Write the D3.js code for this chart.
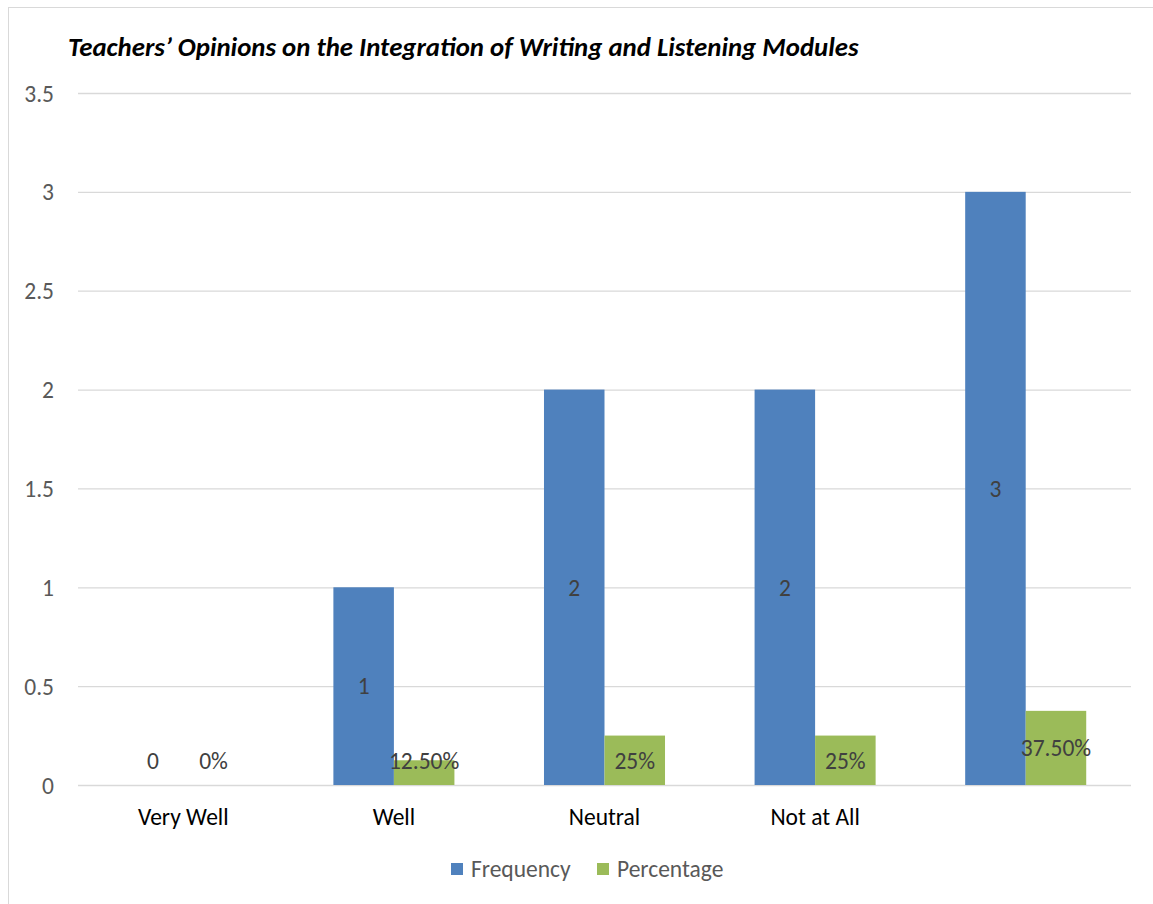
<!DOCTYPE html>
<html><head><meta charset="utf-8">
<script src="https://cdn.jsdelivr.net/npm/d3@7"></script>
<style>
html,body{margin:0;padding:0;background:#fff;}
svg{display:block;}
text{font-family:Carlito, Lato, "Liberation Sans", sans-serif;}
</style></head>
<body>
<svg id="chart" width="1153" height="904"></svg>
<script>
const categories = ["Very Well", "Well", "Neutral", "Not at All", ""];
const seriesNames = ["Frequency", "Percentage"];
const frequency = [0, 1, 2, 2, 3];
const percentage = [0, 0.125, 0.25, 0.25, 0.375];
const frequencyLabels = ["0", "1", "2", "2", "3"];
const percentageLabels = ["0%", "12.50%", "25%", "25%", "37.50%"];
const yTicks = [0, 0.5, 1, 1.5, 2, 2.5, 3, 3.5];
const colors = ["#4F81BD", "#9BBB59"];
const title = "Teachers’ Opinions on the Integration of Writing and Listening Modules";

const FS = "23.5px";
const svg = d3.select("#chart");
// outer border
svg.append("rect").attr("x", 8.5).attr("y", 7.5).attr("width", 1160).attr("height", 910)
  .attr("fill", "none").attr("stroke", "#d9d9d9").attr("stroke-width", 1);

const x0 = d3.scaleBand().domain(categories).range([78, 1131]).paddingInner(0).paddingOuter(0);
const x1 = d3.scaleBand().domain(seriesNames).range([0, x0.bandwidth()]).paddingInner(0).paddingOuter(0.74);
const y = d3.scaleLinear().domain([0, 3.5]).range([785, 93]);

// gridlines
const yAxis = d3.axisLeft(y).tickValues(yTicks).tickSize(-(1131 - 78)).tickPadding(24).tickFormat(d3.format("~g"));
const gy = svg.append("g").attr("transform", "translate(78,0)").call(yAxis);
gy.select(".domain").remove();
gy.selectAll(".tick line").attr("stroke", "#d9d9d9").attr("stroke-width", 1.3);
gy.selectAll(".tick text").attr("fill", "#595959").style("font-size", FS).attr("dy", "0.34em")
  .style("font-family", "Carlito, Lato, 'Liberation Sans', sans-serif");

// x axis labels
const xAxis = d3.axisBottom(x0).tickSize(0).tickPadding(23);
const gx = svg.append("g").attr("transform", "translate(0,785)").call(xAxis);
gx.select(".domain").remove();
gx.selectAll(".tick text").attr("fill", "#000").style("font-size", FS)
  .style("font-family", "Carlito, Lato, 'Liberation Sans', sans-serif");

const data = categories.map((c, i) => ({cat: c, vals: [
  {s: seriesNames[0], v: frequency[i], lab: frequencyLabels[i]},
  {s: seriesNames[1], v: percentage[i], lab: percentageLabels[i]}
]}));

const groups = svg.append("g").selectAll("g").data(data).join("g")
  .attr("transform", d => `translate(${x0(d.cat)},0)`);

groups.selectAll("rect").data(d => d.vals).join("rect")
  .attr("x", d => x1(d.s)).attr("width", x1.bandwidth())
  .attr("y", d => y(d.v)).attr("height", d => y(0) - y(d.v))
  .attr("fill", (d, i) => colors[i]);

groups.selectAll("text.lab").data(d => d.vals).join("text").attr("class", "lab")
  .attr("x", d => x1(d.s) + x1.bandwidth() / 2)
  .attr("y", d => Math.min((y(d.v) + y(0)) / 2, y(0) - 24))
  .attr("dy", "0.35em").attr("text-anchor", "middle")
  .attr("fill", "#404040").style("font-size", FS)
  .text(d => d.lab);

// title
svg.append("text").attr("x", 68).attr("y", 56)
  .style("font-size", "26.8px").style("font-weight", "bold").style("font-style", "italic")
  .attr("fill", "#000").text(title);

// legend
const legend = svg.append("g");
const legItems = [{x: 451, name: seriesNames[0], c: colors[0]}, {x: 597, name: seriesNames[1], c: colors[1]}];
legItems.forEach(it => {
  legend.append("rect").attr("x", it.x).attr("y", 863).attr("width", 12).attr("height", 12).attr("fill", it.c);
  legend.append("text").attr("x", it.x + 20).attr("y", 869).attr("dy", "0.35em")
    .attr("fill", "#595959").style("font-size", FS).text(it.name);
});
</script>
</body></html>
